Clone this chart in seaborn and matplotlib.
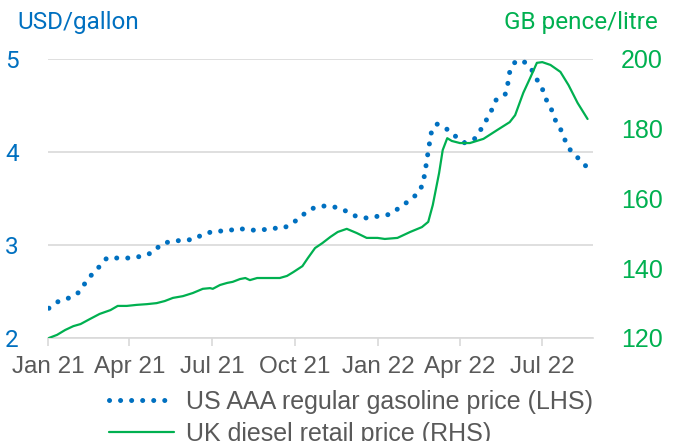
import pandas as pd
import matplotlib
matplotlib.use("Agg")
import matplotlib.pyplot as plt
import matplotlib.dates as mdates
import seaborn as sns

# Data (day offsets from 1 Jan 2021)
start = pd.Timestamp("2021-01-01")

gas_days = [1, 11, 23, 34, 41, 49, 57, 65, 78, 91, 104, 116, 125, 136, 148, 161, 172, 185, 198, 210,
            222, 235, 248, 260, 271, 281, 291, 303, 316, 328, 340, 352, 365, 378, 388, 398, 408, 414, 416, 418,
            420, 422, 424, 430, 440, 450, 460, 471, 478, 484, 490, 495, 505, 508, 510, 516, 525, 534, 540, 546,
            550, 556, 560, 566, 571, 577, 585, 594]
gas_usd = [2.32, 2.39, 2.43, 2.49, 2.59, 2.69, 2.77, 2.86, 2.86, 2.86, 2.88, 2.92, 3.01, 3.04, 3.05, 3.06, 3.12, 3.15, 3.15, 3.18,
           3.16, 3.16, 3.18, 3.18, 3.24, 3.32, 3.39, 3.42, 3.41, 3.37, 3.31, 3.29, 3.31, 3.33, 3.40, 3.47, 3.55, 3.65, 3.76, 3.88,
           4.01, 4.13, 4.24, 4.30, 4.25, 4.17, 4.10, 4.14, 4.24, 4.34, 4.45, 4.56, 4.62, 4.74, 4.86, 4.97, 4.98, 4.89, 4.78, 4.68,
           4.57, 4.46, 4.35, 4.25, 4.13, 4.02, 3.94, 3.85]

diesel_days = [1, 10, 19, 28, 36, 46, 57, 69, 77, 87, 98, 109, 120, 129, 138, 149, 160, 171, 179, 182,
               190, 198, 204, 212, 218, 223, 231, 242, 256, 264, 271, 281, 287, 295, 303, 312, 320, 330, 341, 352,
               364, 372, 386, 400, 413, 420, 425, 432, 436, 441, 446, 455, 466, 481, 496, 510, 516, 525, 533,
               540, 546, 555, 566, 575, 585, 596]
diesel_ppl = [120.0, 120.9, 122.3, 123.4, 124.0, 125.4, 126.9, 128.0, 129.2, 129.2, 129.5, 129.7, 130.0, 130.6, 131.5, 132.0, 132.9, 134.1, 134.3, 134.1,
              135.2, 135.8, 136.1, 136.9, 137.2, 136.6, 137.2, 137.2, 137.2, 137.8, 138.9, 140.6, 142.9, 145.8, 147.2, 149.0, 150.4, 151.3, 150.1, 148.7,
              148.7, 148.4, 148.7, 150.4, 151.8, 153.3, 158.1, 167.3, 173.9, 177.3, 176.5, 175.9, 175.9, 177.1, 179.6, 181.9, 183.9, 190.3, 194.8,
              198.9, 199.1, 198.3, 196.3, 192.5, 187.4, 182.8]

tick_dates = ["2021-01-01", "2021-04-01", "2021-07-01", "2021-10-01", "2022-01-01", "2022-04-01", "2022-07-01"]

gas = pd.DataFrame({"date": start + pd.to_timedelta(gas_days, unit="D"), "usd": gas_usd})
diesel = pd.DataFrame({"date": start + pd.to_timedelta(diesel_days, unit="D"), "ppl": diesel_ppl})

BLUE = "#0070C0"
GREEN = "#00B050"
GREY = "#595959"
GRID = "#D9D9D9"

sns.set_theme(style="white")
plt.rcParams["font.family"] = ["Liberation Sans", "DejaVu Sans"]

fig = plt.figure(figsize=(6.74, 4.41), dpi=100)
ax = fig.add_axes([48 / 674, 1 - 338 / 441, (593 - 48) / 674, (338 - 59) / 441])
ax2 = ax.twinx()

sns.lineplot(data=gas, x="date", y="usd", ax=ax, color=BLUE, linewidth=3.6,
             linestyle=(0, (0.01, 2.2)), dash_capstyle="round",
             label="US AAA regular gasoline price (LHS)")
sns.lineplot(data=diesel, x="date", y="ppl", ax=ax2, color=GREEN, linewidth=1.6,
             label="UK diesel retail price (RHS)")
for a in (ax, ax2):
    if a.get_legend() is not None:
        a.get_legend().remove()

ax.set_ylim(2, 5)
ax.set_yticks([2, 3, 4, 5])
ax2.set_ylim(120, 200)
ax2.set_yticks([120, 140, 160, 180, 200])
ax.set_xlim(start, start + pd.Timedelta(days=602))
ax.set_xticks(pd.to_datetime(tick_dates))
ax.xaxis.set_major_formatter(mdates.DateFormatter("%b %y"))

ax.grid(axis="y", color=GRID, linewidth=1.2)
ax.set_axisbelow(True)
for a in (ax, ax2):
    for s in ("top", "left", "right"):
        a.spines[s].set_visible(False)
    a.set_xlabel("")
    a.set_ylabel("")
ax.spines["bottom"].set_color(GRID)
ax.spines["bottom"].set_linewidth(1.2)
ax2.spines["bottom"].set_visible(False)

ax.tick_params(axis="x", bottom=True, length=6, width=1.2, color=GRID,
               labelcolor=GREY, labelsize=17.5, pad=7)
ax.tick_params(axis="y", left=False, labelcolor=BLUE, labelsize=17.5, pad=15)
for lbl in ax.get_yticklabels():
    lbl.set_family(["Roboto", "DejaVu Sans"])
ax2.tick_params(axis="y", right=False, labelcolor=GREEN, labelsize=18, pad=14)

fig.text(17 / 674, 1 - 23 / 441, "USD/gallon", color=BLUE, fontsize=17.5,
         family=["Roboto", "DejaVu Sans"], ha="left", va="center")
fig.text(658 / 674, 1 - 23 / 441, "GB pence/litre", color=GREEN, fontsize=17.5,
         family=["Roboto", "DejaVu Sans"], ha="right", va="center")

h1, l1 = ax.get_legend_handles_labels()
h2, l2 = ax2.get_legend_handles_labels()
fig.legend(h1 + h2, l1 + l2, loc="upper center", bbox_to_anchor=(351 / 674, 1 - 390 / 441),
           frameon=False, fontsize=18, labelcolor=GREY, handlelength=2.6,
           handletextpad=0.45, labelspacing=0.3, borderaxespad=0, borderpad=0)

fig.savefig("out.png", dpi=100)
